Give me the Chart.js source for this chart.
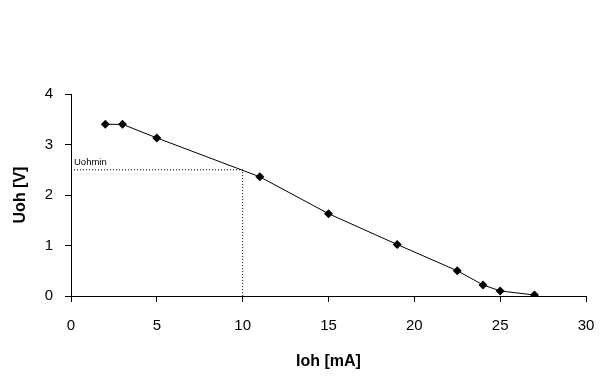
<!DOCTYPE html>
<html>
<head>
<meta charset="utf-8">
<title>Uoh vs Ioh</title>
<script src="https://cdn.jsdelivr.net/npm/chart.js@4/dist/chart.umd.min.js"></script>
<style>
  html, body { margin: 0; padding: 0; background: #fff; }
  canvas { display: block; }
</style>
</head>
<body>
<canvas id="chart" width="605" height="389"></canvas>
<script>
// measured points
const ioh = [2, 3, 5, 11, 15, 19, 22.5, 24, 25, 27];
const uoh = [3.4, 3.4, 3.13, 2.36, 1.63, 1.02, 0.5, 0.22, 0.1, 0.02];

// Uohmin guide
const uohMin = 2.5;
const iohAtMin = 10;
const guideLabel = "Uohmin";

const xTicks = [0, 5, 10, 15, 20, 25, 30];
const yTicks = [0, 1, 2, 3, 4];

Chart.defaults.font.family = "'Liberation Sans', Arial, sans-serif";
Chart.defaults.color = "#000";

const guideText = {
  id: "guideText",
  afterDatasetsDraw(chart) {
    const { ctx, scales } = chart;
    const x = scales.x.getPixelForValue(0) + 3;
    const y = scales.y.getPixelForValue(uohMin) - 5;
    ctx.save();
    ctx.font = "9.5px 'Liberation Sans', Arial, sans-serif";
    ctx.fillStyle = "#000";
    ctx.textAlign = "left";
    ctx.textBaseline = "alphabetic";
    ctx.fillText(guideLabel, x, y);
    ctx.restore();
  }
};

new Chart(document.getElementById("chart"), {
  type: "scatter",
  data: {
    datasets: [
      {
        label: "Uoh",
        data: ioh.map((v, i) => ({ x: v, y: uoh[i] })),
        showLine: true,
        borderColor: "#000",
        borderWidth: 1,
        backgroundColor: "#000",
        pointStyle: "rectRot",
        pointRadius: 4.5,
        pointBorderWidth: 0,
        tension: 0
      },
      {
        label: "Uohmin",
        data: [
          { x: xTicks[0], y: uohMin },
          { x: iohAtMin, y: uohMin },
          { x: iohAtMin, y: yTicks[0] }
        ],
        showLine: true,
        borderColor: "#000",
        borderWidth: 1,
        borderDash: [1, 2],
        pointRadius: 0
      }
    ]
  },
  options: {
    responsive: false,
    animation: false,
    devicePixelRatio: 1,
    layout: { padding: { top: 94, right: 19, bottom: 0, left: 0 } },
    plugins: {
      legend: { display: false },
      tooltip: { enabled: false }
    },
    scales: {
      x: {
        type: "linear",
        min: xTicks[0],
        max: xTicks[xTicks.length - 1],
        afterFit: (s) => { s.height = 93; s.paddingLeft = 0; s.paddingRight = 0; },
        afterBuildTicks: (s) => { s.ticks = xTicks.map(v => ({ value: v })); },
        border: { color: "#000", width: 1 },
        grid: { drawOnChartArea: false, drawTicks: true, tickLength: 6, color: "#000" },
        ticks: { font: { size: 15 }, padding: 15, maxRotation: 0 },
        title: {
          display: true,
          text: "Ioh [mA]",
          font: { size: 16, weight: "bold" },
          padding: { top: 0, bottom: 18 }
        }
      },
      y: {
        type: "linear",
        min: yTicks[0],
        max: yTicks[yTicks.length - 1],
        afterFit: (s) => { s.width = 71; },
        afterBuildTicks: (s) => { s.ticks = yTicks.map(v => ({ value: v })); },
        border: { color: "#000", width: 1 },
        grid: { drawOnChartArea: false, drawTicks: true, tickLength: 6, color: "#000" },
        ticks: { font: { size: 15 }, padding: 12 },
        title: {
          display: true,
          text: "Uoh [V]",
          font: { size: 16, weight: "bold" },
          padding: { top: 11, bottom: 0 }
        }
      }
    }
  },
  plugins: [guideText]
});
</script>
</body>
</html>
